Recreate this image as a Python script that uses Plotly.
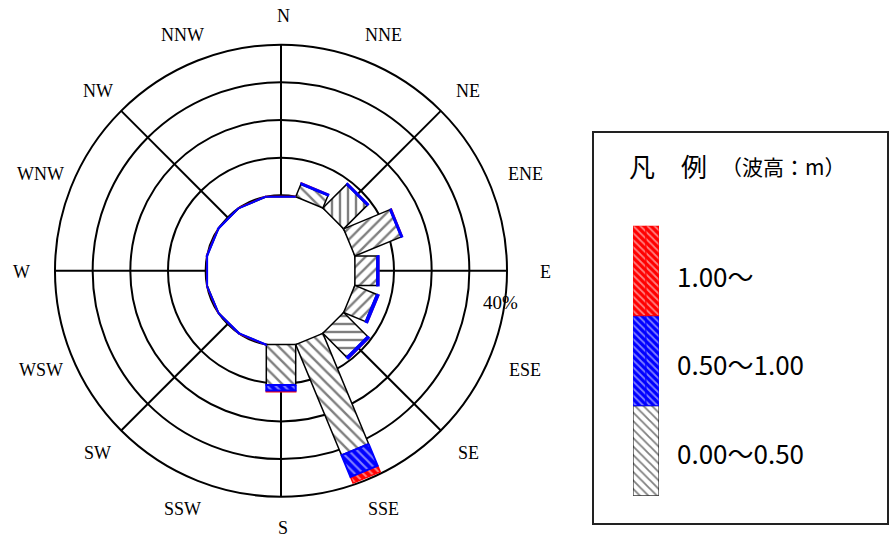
import numpy as np
import plotly.graph_objects as go

# ---------------- data ----------------
directions = ["N", "NNE", "NE", "ENE", "E", "ESE", "SE", "SSE",
              "S", "SSW", "SW", "WSW", "W", "WNW", "NW", "NNW"]
# frequency (%) per wave-height class
h_low = [0.0, 3.6, 8.9, 13.3, 5.9, 6.3, 9.0, 31.8, 10.7, 0.0, 0.0, 0.0, 0.0, 0.0, 0.0, 0.0]   # 0.00~0.50
h_mid = [0.1, 0.3, 0.3, 0.3, 0.4, 0.5, 0.5, 6.2, 1.5, 0.1, 0.1, 0.1, 0.1, 0.1, 0.1, 0.1]      # 0.50~1.00
h_high = [0.05, 0.05, 0.05, 0.1, 0.05, 0.05, 0.05, 1.8, 0.3, 0.05, 0.05, 0.05, 0.05, 0.05, 0.05, 0.05]  # 1.00~
class_labels = ["0.00～0.50", "0.50～1.00", "1.00～"]
ring_values = [10, 20, 30, 40]
ring_label = "40%"

# ---------------- styles ----------------
PX = 3.767            # pixels per % unit
CX, CY = 281.0, 270.7  # rose centre (px)
R0 = 20.0             # calm circle radius (in % units)
gray_shapes = ["\\", "\\", "|", "/", "/", "/", "-", "\\",
               "\\", "\\", "\\", "\\", "\\", "\\", "\\", "\\"]

sector = 360.0 / len(directions)
half = np.radians(sector / 2)
d0 = R0 * np.cos(half)
hw = R0 * np.sin(half)

fig = go.Figure()


def seg_xy(theta_deg, a, b):
    t = np.radians(theta_deg)
    u = np.array([np.sin(t), np.cos(t)])
    p = np.array([np.cos(t), -np.sin(t)])
    pts = [(d0 + a) * u - hw * p, (d0 + a) * u + hw * p,
           (d0 + b) * u + hw * p, (d0 + b) * u - hw * p]
    pts.append(pts[0])
    return [q[0] for q in pts], [q[1] for q in pts]


layers = []
for i, d in enumerate(directions):
    th = i * sector
    a1 = h_low[i]
    a2 = a1 + h_mid[i]
    a3 = a2 + h_high[i]
    layers.append((th, 0.0, a1, a2, a3, i))

# gray segments
for th, a0, a1, a2, a3, i in layers:
    x, y = seg_xy(th, a0, a1)
    fig.add_trace(go.Scatter(x=x, y=y, mode="lines", fill="toself",
                             fillpattern=dict(shape=gray_shapes[i], fgcolor="black",
                                              bgcolor="white", size=8, solidity=0.3),
                             line=dict(color="black", width=1.5),
                             hoverinfo="skip", showlegend=False))
# red segments
for th, a0, a1, a2, a3, i in layers:
    x, y = seg_xy(th, a2, a3)
    fig.add_trace(go.Scatter(x=x, y=y, mode="lines", fill="toself",
                             fillpattern=dict(shape="\\", fgcolor="white",
                                              bgcolor="red", size=6, solidity=0.35),
                             line=dict(color="red", width=1.5),
                             hoverinfo="skip", showlegend=False))
# blue segments
for th, a0, a1, a2, a3, i in layers:
    x, y = seg_xy(th, a1, a2)
    fig.add_trace(go.Scatter(x=x, y=y, mode="lines", fill="toself",
                             fillpattern=dict(shape="\\", fgcolor="white",
                                              bgcolor="blue", size=6, solidity=0.35),
                             line=dict(color="blue", width=2),
                             hoverinfo="skip", showlegend=False))

shapes = []
# rings
for rv in [0] + ring_values:
    r = R0 + rv
    shapes.append(dict(type="circle", xref="x", yref="y", x0=-r, x1=r, y0=-r, y1=r,
                       line=dict(color="black", width=2), layer="below"))
# spokes
rmax = R0 + ring_values[-1]
for k in range(8):
    t = np.radians(k * 45)
    shapes.append(dict(type="line", xref="x", yref="y",
                       x0=R0 * np.sin(t), y0=R0 * np.cos(t),
                       x1=rmax * np.sin(t), y1=rmax * np.cos(t),
                       line=dict(color="black", width=2), layer="below"))
# legend frame
shapes.append(dict(type="rect", xref="paper", yref="paper",
                   x0=593 / 890, x1=888 / 890, y0=1 - 524 / 540, y1=1 - 132 / 540,
                   line=dict(color="#222", width=2), layer="below"))

annotations = []
# direction labels
LCX, LCY = 283.0, 272.0
for i, d in enumerate(directions):
    t = np.radians(i * sector)
    px = LCX + 262 * np.sin(t)
    py = LCY - 256 * np.cos(t)
    annotations.append(dict(x=(px - CX) / PX, y=(CY - py) / PX, xref="x", yref="y",
                            text=d, showarrow=False, xanchor="center", yanchor="middle",
                            font=dict(family="Liberation Serif", size=18, color="black")))
# ring label
annotations.append(dict(x=(500 - CX) / PX, y=(CY - 302) / PX, xref="x", yref="y",
                        text=ring_label, showarrow=False, xanchor="center", yanchor="middle",
                        font=dict(family="Liberation Serif", size=19, color="black")))

# legend title
annotations.append(dict(x=627 / 890, y=1 - 165 / 540, xref="paper", yref="paper",
                        text="凡　例", showarrow=False, xanchor="left", yanchor="middle",
                        font=dict(family="Noto Sans CJK JP", size=26, color="black")))
annotations.append(dict(x=719 / 890, y=1 - 166 / 540, xref="paper", yref="paper",
                        text="（波高：m）", showarrow=False, xanchor="left", yanchor="middle",
                        font=dict(family="Noto Sans CJK JP", size=21, color="black")))
label_y = [452, 363, 275]
for lab, ly in zip(class_labels, label_y):
    annotations.append(dict(x=675 / 890, y=1 - ly / 540, xref="paper", yref="paper",
                            text=lab, showarrow=False, xanchor="left", yanchor="middle",
                            font=dict(family="Noto Sans CJK JP", size=26, color="black")))

# legend swatch (stacked bar on its own axes)
fig.add_trace(go.Bar(x=[0], y=[1], base=[0], width=[1], xaxis="x2", yaxis="y2",
                     marker=dict(color="white", line=dict(color="black", width=1),
                                 pattern=dict(shape="\\", fgcolor="black", bgcolor="white",
                                              size=6, solidity=0.3)),
                     hoverinfo="skip", showlegend=False))
fig.add_trace(go.Bar(x=[-0.25, 0.25], y=[1, 1], base=[1, 1], width=[0.5, 0.5], xaxis="x2", yaxis="y2",
                     marker=dict(color="blue", line=dict(color="blue", width=1),
                                 pattern=dict(shape="\\", fgcolor="white", bgcolor="blue",
                                              size=5, solidity=0.35)),
                     hoverinfo="skip", showlegend=False))
fig.add_trace(go.Bar(x=[-0.25, 0.25], y=[1, 1], base=[2, 2], width=[0.5, 0.5], xaxis="x2", yaxis="y2",
                     marker=dict(color="red", line=dict(color="red", width=1),
                                 pattern=dict(shape="\\", fgcolor="white", bgcolor="red",
                                              size=5, solidity=0.35)),
                     hoverinfo="skip", showlegend=False))

hidden = dict(visible=False, showgrid=False, zeroline=False, fixedrange=True)
fig.update_layout(
    width=890, height=540,
    margin=dict(l=0, r=0, t=0, b=0),
    paper_bgcolor="white", plot_bgcolor="rgba(0,0,0,0)",
    showlegend=False, barmode="overlay",
    xaxis=dict(domain=[0, 1], range=[-CX / PX, (890 - CX) / PX], **hidden),
    yaxis=dict(domain=[0, 1], range=[-(540 - CY) / PX, CY / PX], **hidden),
    xaxis2=dict(domain=[633 / 890, 659 / 890], range=[-0.5, 0.5], anchor="y2", **hidden),
    yaxis2=dict(domain=[1 - 495.7 / 540, 1 - 225.7 / 540], range=[0, 3], anchor="x2", **hidden),
    shapes=shapes, annotations=annotations,
)

fig.write_html("out.html", config={"displayModeBar": False},
               post_script="document.body.style.margin='0px';document.body.style.overflow='hidden';")
